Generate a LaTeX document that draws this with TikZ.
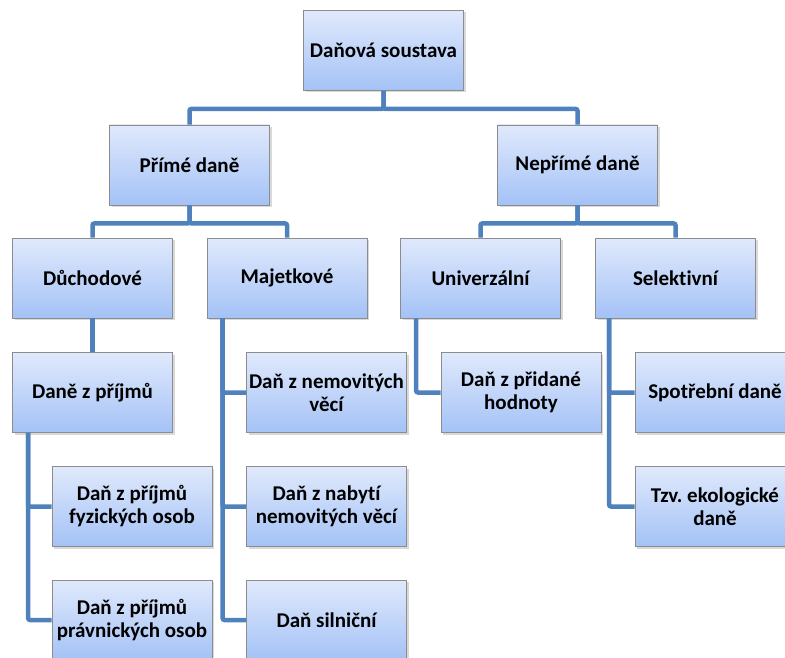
\documentclass[tikz,border=0pt]{standalone}
\usepackage{fontspec}
\setmainfont{Carlito}[Ligatures=NoCommon]
\usetikzlibrary{shadows}
\definecolor{linkblue}{RGB}{79,129,189}
\definecolor{boxtop}{RGB}{224,233,252}
\definecolor{boxbot}{RGB}{164,194,246}
\frenchspacing

\begin{document}
\begin{tikzpicture}[x=1pt, y=-1pt,
	box/.style={draw=black!45, line width=0.8pt, top color=boxtop, bottom color=boxbot,
		minimum width=160pt, minimum height=80pt, inner sep=2pt, align=center,
		font=\fontsize{21}{23}\selectfont\bfseries,
		drop shadow={shadow xshift=2pt, shadow yshift=-2pt, opacity=0.3}},
	link/.style={draw=linkblue, line width=4.5pt, rounded corners=2pt}]
				\useasboundingbox (0,0) rectangle (785,658);
				\node[box] (soustava) at (383.5,50.5) {Daňová soustava};
				\node[box] (prime) at (189.5,165) {Přímé daně};
				\node[box] (neprime) at (577.5,165) {Nepřímé daně};
				\node[box] (duchodove) at (92.5,278) {Důchodové};
				\node[box] (majetkove) at (287,278) {Majetkové};
				\node[box] (univerzalni) at (480.5,278) {Univerzální};
				\node[box] (selektivni) at (675.5,278) {Selektivní};
				\node[box] (prijmy) at (92.5,392.5) {Daně z příjmů};
				\node[box] (nemovite) at (326.5,392.5) {Daň z nemovitých\\věcí};
				\node[box] (dph) at (521,392.5) {Daň z přidané\\hodnoty};
				\node[box] (spotrebni) at (715,392.5) {Spotřební daně};
				\node[box] (fyzicke) at (132,506.5) {Daň z příjmů\\fyzických osob};
				\node[box] (nabyti) at (326.5,506.5) {Daň z nabytí\\nemovitých věcí};
				\node[box] (ekologicke) at (715,506.5) {Tzv. ekologické\\daně};
				\node[box] (pravnicke) at (132,620) {Daň z příjmů\\právnických osob};
				\node[box] (silnicni) at (326.5,620) {Daň silniční};
				\foreach \n in {prime,neprime}
					\draw[link] (soustava.south) -- ++(0,18) -| (\n.north);
				\foreach \n in {duchodove,majetkove}
					\draw[link] (prime.south) -- ++(0,18) -| (\n.north);
				\foreach \n in {univerzalni,selektivni}
					\draw[link] (neprime.south) -- ++(0,18) -| (\n.north);
				\draw[link] (duchodove.south) -- (prijmy.north);
				\foreach \n in {fyzicke,pravnicke}
					\draw[link] ([xshift=16pt]prijmy.south west) |- (\n.west);
				\foreach \n in {nemovite,nabyti,silnicni}
					\draw[link] ([xshift=16pt]majetkove.south west) |- (\n.west);
				\draw[link] ([xshift=16pt]univerzalni.south west) |- (dph.west);
				\foreach \n in {spotrebni,ekologicke}
					\draw[link] ([xshift=14pt]selektivni.south west) |- (\n.west);
			\end{tikzpicture}
\end{document}
